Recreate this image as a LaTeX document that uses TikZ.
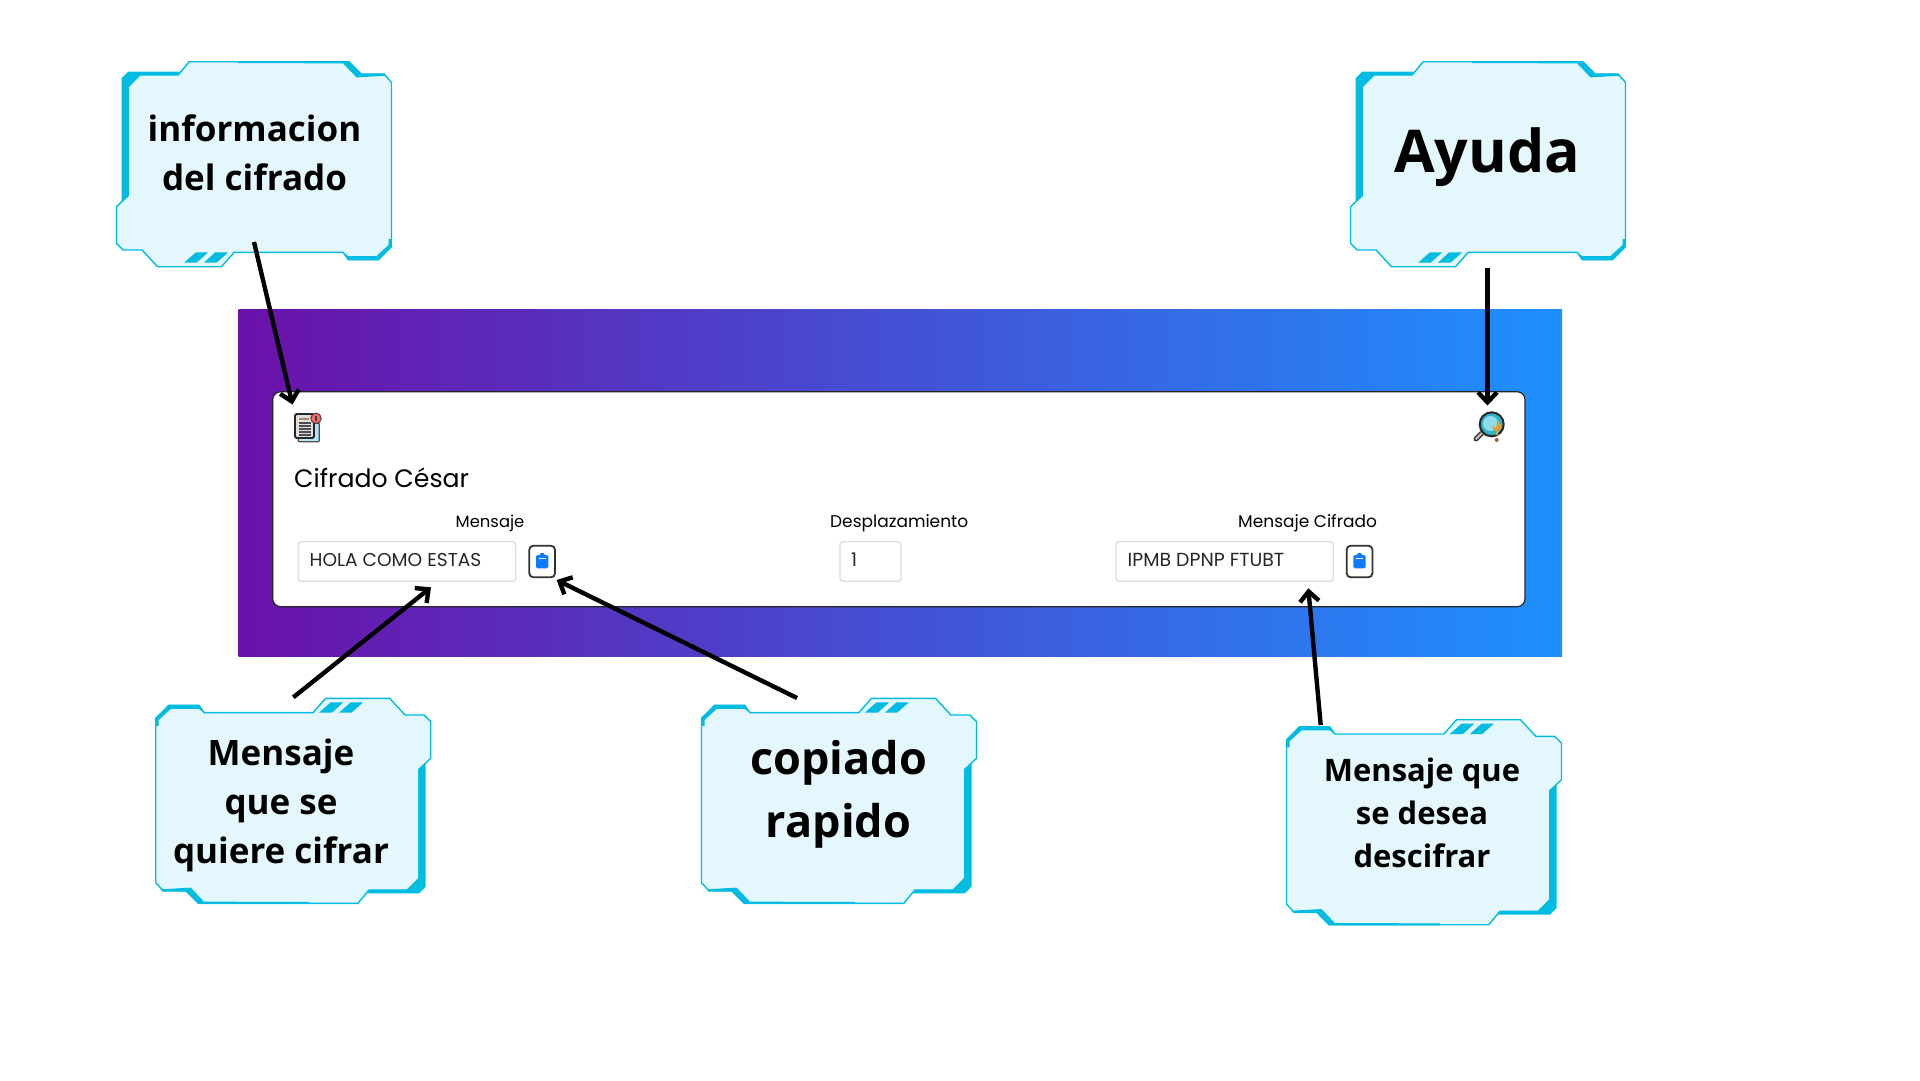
\documentclass[tikz,border=0pt]{standalone}
\usepackage{fontspec}
\setmainfont{Open Sans}
\newfontfamily\uifont{Poppins}
\usetikzlibrary{arrows.meta}
\definecolor{calfill}{HTML}{E4F7FC}
\definecolor{calcyan}{HTML}{00BCE0}
\definecolor{gradL}{HTML}{6A11A9}
\definecolor{gradR}{HTML}{1E90FF}
\definecolor{btnblue}{HTML}{0D7BFA}
\definecolor{inputedge}{HTML}{DEDEDE}
\definecolor{lensteal}{HTML}{2FB3CE}
\definecolor{lenslight}{HTML}{8FDCEB}
\definecolor{qorange}{HTML}{E0A030}
\tikzset{
  x=1pt,y=-1pt,
  calltext/.style={font=\bfseries,align=center,text=black,inner sep=0pt},
  uitext/.style={font=\uifont,anchor=base west,inner sep=0pt,text=black},
  inputbox/.style={draw=inputedge,line width=1.4pt,fill=white,rounded corners=3pt},
  btnbox/.style={draw=black!80,line width=1.8pt,fill=white,rounded corners=4pt},
  pointer/.style={draw=black,line width=4.4pt,-{Straight Barb[length=10pt,width=19pt,line width=4.4pt]}},
}
\newcommand{\calloutshape}[3]{%
\begin{scope}[shift={(#1,#2)}]
\begin{scope}[x=.33333pt,y=-.33333pt,rotate=#3,shift={(-462.5,-372.5)}]
\draw[fill=calfill,draw=calcyan,line width=1.4pt,line join=round]
 (268,65)--(745,65)--(780,103)--(853,103)--(875,127)--(875,620)--(835,658)--(745,658)--(730,637)--(403,637)--(365,680)--(173,680)--(127,630)--(70,630)--(50,610)--(50,500)--(85,467)--(85,140)--(120,105)--(235,105)--cycle;
\fill[calcyan] (65,115)--(85,95)--(240,95)--(232,105)--(120,105)--(87,140)--(87,467)--(65,487)--cycle;
\fill[calcyan] (415,63)--(748,63)--(785,100)--(853,100)--(860,107)--(770,112)--(730,70)--(415,69)--cycle;
\fill[calcyan] (875,597)--(875,620)--(837,661)--(745,661)--(730,637)--(745,648)--(830,648)--(866,615)--(866,597)--cycle;
\fill[calcyan] (253,668)--(288,637)--(325,637)--(290,668)--cycle;
\fill[calcyan] (312,668)--(346,637)--(385,637)--(350,668)--cycle;
\end{scope}
\end{scope}}
\newcommand{\clipbtn}[2]{%
\begin{scope}[shift={(#1,#2)}]
\draw[btnbox] (0,0) rectangle (25.7,31.6);
\fill[btnblue,rounded corners=1.5pt] (6.7,9.3) rectangle (19,22.6);
\fill[btnblue,rounded corners=1pt] (10.5,7.5) rectangle (15.2,11);
\fill[white] (9.5,12.2) rectangle (16.2,12.9);
\end{scope}}
\begin{document}
\begin{tikzpicture}
\useasboundingbox (0,0) rectangle (1920,1080);
\fill[white] (0,0) rectangle (1920,1080);
% gradient band
\shade[left color=gradL,right color=gradR] (238.5,309) rectangle (1562,656.5);
\draw[draw=black!85,line width=1.2pt,fill=white,rounded corners=8pt] (272.7,391.7) rectangle (1525,606.7);
% callouts
\calloutshape{254}{164.2}{0}
\calloutshape{1488}{164.2}{0}
\calloutshape{293.2}{800.8}{180}
\calloutshape{839}{800.8}{180}
\calloutshape{1424}{822.2}{180}
\node[calltext,font=\bfseries\fontsize{35}{49}\selectfont] (tinfo) at (254.5,153) {informacion\\del cifrado};
\node[calltext,font=\bfseries\fontsize{59}{70}\selectfont] (tayuda) at (1487,157) {Ayuda};
\node[calltext,font=\bfseries\fontsize{35}{49}\selectfont] (tmens) at (281,805) {Mensaje\\que se\\quiere cifrar};
\node[calltext,font=\bfseries\fontsize{45}{63}\selectfont] (tcopia) at (838.5,794.5) {copiado\\rapido};
\node[calltext,font=\bfseries\fontsize{31}{43}\selectfont] (tdesc) at (1422,812.5) {Mensaje que\\se desea\\descifrar};
% card text
\node[uitext,font=\uifont\fontsize{25.2}{28}\selectfont] (title) at (294,487) {Cifrado César};
\node[uitext,font=\uifont\fontsize{16.4}{20}\selectfont] (lmens) at (455.5,527.7) {Mensaje};
\node[uitext,font=\uifont\fontsize{17}{20}\selectfont] (ldesp) at (830,527.7) {Desplazamiento};
\node[uitext,font=\uifont\fontsize{17}{20}\selectfont] (lcif) at (1238,527.7) {Mensaje Cifrado};
% inputs
\draw[inputbox] (298.3,541.7) rectangle (515.7,581.3);
\draw[inputbox] (840,541.7) rectangle (901,581.3);
\draw[inputbox] (1116,541.7) rectangle (1333.3,581.3);
\node[uitext,font=\uifont\fontsize{18.6}{20}\selectfont,text=black!85] (vmens) at (309.5,566.7) {HOLA COMO ESTAS};
\node[uitext,font=\uifont\fontsize{18.7}{20}\selectfont,text=black!85] (vdesp) at (851,566.7) {1};
\node[uitext,font=\uifont\fontsize{18.9}{20}\selectfont,text=black!85] (vcif) at (1127.5,566.7) {IPMB DPNP FTUBT};
\clipbtn{529.3}{545.7}
\clipbtn{1346.7}{545.7}
% document icon
\draw[draw=black!70,fill=cyan!30,line width=1.2pt,rounded corners=1pt] (298.3,423) rectangle (319.3,441.7);
\draw[draw=black!85,fill=black!12,line width=1.8pt,rounded corners=1.5pt] (295,414) rectangle (314,438);
\fill[brown!80!black!80] (298.5,418) rectangle (309,419.6);
\foreach \yy in {422,425,428,431,434}{\fill[black!70] (298.5,\yy) rectangle (310.5,\yy+1.5);}
\draw[fill=red!60!white,draw=black!75,line width=1pt] (316,418.3) circle[radius=5.2];
\fill[black!75] (315.4,415.5) rectangle (316.6,421);
% help icon
\draw[line width=5pt,draw=black!75,line cap=round] (1483,432) -- (1476,439);
\draw[line width=2pt,draw=white!75!black,line cap=round] (1482.5,432.5) -- (1476,439);
\draw[line width=3pt,draw=qorange] (1481.5,430.5) -- (1486,435);
\draw[fill=lensteal,draw=black!85,line width=2pt] (1491.7,424.3) circle[radius=12];
\fill[lenslight] (1490.5,423.5) circle[radius=7.5];
\draw[line width=2.4pt,draw=qorange] (1493.2,427) arc[start angle=170,end angle=-70,radius=3.6] -- (1496.7,435);
\fill[brown!80!black] (1496.7,440) circle[radius=2];
% connectors
\coordinate (a1s) at (254,242); \coordinate (a1e) at (292.5,404.5);
\coordinate (a2s) at (1487.5,268); \coordinate (a2e) at (1487.5,405.5);
\coordinate (a3s) at (293.3,697.3); \coordinate (a3e) at (431,587.3);
\coordinate (a4s) at (797,698); \coordinate (a4e) at (556.7,580);
\coordinate (a5s) at (1320.7,725); \coordinate (a5e) at (1308.3,588.3);
\draw[pointer] (a1s) -- (a1e);
\draw[pointer] (a2s) -- (a2e);
\draw[pointer] (a3s) -- (a3e);
\draw[pointer] (a4s) -- (a4e);
\draw[pointer] (a5s) -- (a5e);
\end{tikzpicture}
\end{document}
